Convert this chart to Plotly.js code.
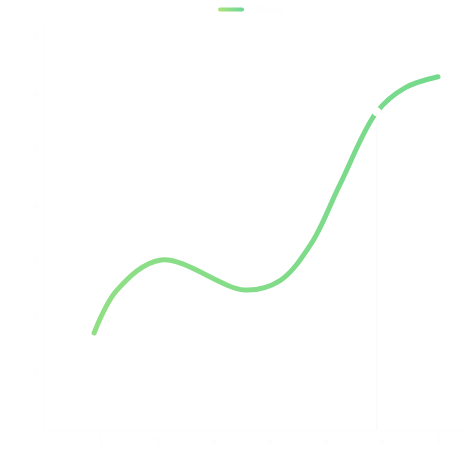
<!DOCTYPE html>
<html>
<head>
<meta charset="utf-8">
<script src="https://cdn.plot.ly/plotly-3.0.1.min.js"></script>
<style>html,body{margin:0;padding:0;background:#fff;}#chart{width:470px;height:456px;}</style>
</head>
<body>
<div id="chart"></div>
<script>
const xValues = [0.875, 1.286, 2.071, 3.554, 4.179, 4.75, 5.25, 5.911, 6.411, 7.0];
const yValues = [1.732, 2.5, 3.036, 2.5, 2.661, 3.339, 4.375, 5.679, 6.107, 6.304];
const seriesName = "Series";
const highlightX = [5.911];
const highlightY = [5.679];
const xTicks = [1, 2, 3, 4, 5, 6, 7];
const yTicks = [1, 2, 3, 4, 5, 6, 7];

const faint = '#fdfdfd';
const data = [
  {
    x: xValues, y: yValues, name: seriesName, type: 'scatter', mode: 'lines',
    line: {shape: 'spline', smoothing: 1, width: 5, color: '#80db88'},
    showlegend: true
  },
  {
    x: highlightX, y: highlightY, type: 'scatter', mode: 'markers',
    marker: {size: 9, color: '#ffffff'}, showlegend: false, hoverinfo: 'skip'
  }
];
const layout = {
  width: 470, height: 456,
  margin: {l: 45, r: 0, t: 21, b: 26, autoexpand: false},
  paper_bgcolor: '#ffffff', plot_bgcolor: '#ffffff',
  font: {family: 'DejaVu Sans', size: 9, color: faint},
  showlegend: true,
  legend: {orientation: 'h', xref: 'paper', x: 0.486, xanchor: 'center', yref: 'paper', y: 1.028, yanchor: 'middle', font: {color: faint, size: 9}},
  xaxis: {range: [0, 7.57], tickvals: xTicks, showgrid: false, zeroline: false, automargin: false,
    showline: true, linecolor: faint, ticks: 'outside', ticklen: 3, tickcolor: faint,
    tickfont: {color: faint, size: 9}},
  yaxis: {range: [0, 7.3], tickvals: yTicks, showgrid: true, gridcolor: '#fefefe', zeroline: false, automargin: false,
    showline: true, linecolor: faint, ticks: 'outside', ticklen: 3, tickcolor: faint,
    tickfont: {color: faint, size: 9}},
  shapes: [{type: 'line', xref: 'x', yref: 'y', x0: highlightX[0], x1: highlightX[0],
    y0: 0, y1: highlightY[0], line: {color: '#f8f8f8', width: 1}}]
};
Plotly.newPlot('chart', data, layout, {displayModeBar: false, staticPlot: true}).then(function(gd){
  const svg = gd.querySelector('svg.main-svg');
  const ns = 'http://www.w3.org/2000/svg';
  const defs = svg.querySelector('defs');
  function makeGrad(id, stops, user) {
    const grad = document.createElementNS(ns, 'linearGradient');
    grad.setAttribute('id', id);
    if (user) {
      grad.setAttribute('gradientUnits', 'userSpaceOnUse');
      grad.setAttribute('x1', '5'); grad.setAttribute('x2', '27');
      grad.setAttribute('y1', '0'); grad.setAttribute('y2', '0');
    } else {
      grad.setAttribute('x1', '0'); grad.setAttribute('x2', '1');
      grad.setAttribute('y1', '0'); grad.setAttribute('y2', '0');
    }
    stops.forEach(function(s){
      const st = document.createElementNS(ns, 'stop');
      st.setAttribute('offset', s[0]); st.setAttribute('stop-color', s[1]);
      grad.appendChild(st);
    });
    defs.appendChild(grad);
  }
  makeGrad('lineGrad', [['0%', '#90df85'], ['100%', '#74d98d']], false);
  makeGrad('legGrad', [['0%', '#a6e27b'], ['100%', '#6fd895']], true);
  gd.querySelectorAll('.scatterlayer .trace:first-child .js-line').forEach(function(p){
    p.style.stroke = 'url(#lineGrad)';
    p.style.strokeLinecap = 'round';
  });
  gd.querySelectorAll('.legend .js-line').forEach(function(p){
    p.setAttribute('d', 'M5,0h22');
    p.style.stroke = 'url(#legGrad)';
    p.style.strokeLinecap = 'round';
    p.style.strokeWidth = '4px';
  });
});
</script>
</body>
</html>
